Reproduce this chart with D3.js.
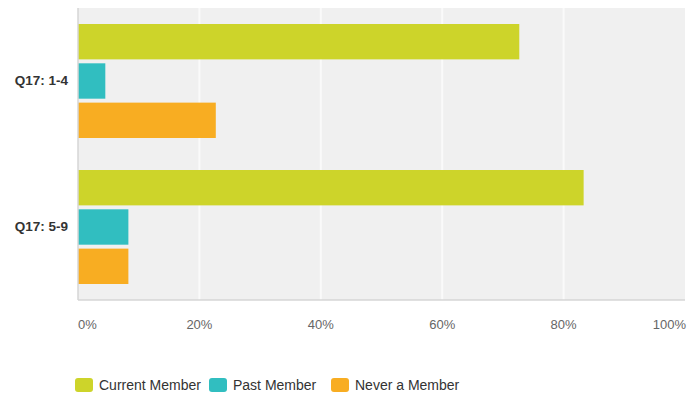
<!DOCTYPE html>
<html>
<head>
<script src="https://d3js.org/d3.v7.min.js"></script>
<style>
  body { margin: 0; background: #fff; }
  svg { display: block; font-family: "Liberation Sans", Arial, sans-serif; }
</style>
</head>
<body>
<div id="container"></div>
<script>
const categories = ['Q17: 1-4', 'Q17: 5-9'];
const series = ['Current Member', 'Past Member', 'Never a Member'];
const currentMember = [72.7, 83.3];
const pastMember = [4.5, 8.3];
const neverMember = [22.7, 8.3];
const tickValues = [0, 20, 40, 60, 80, 100];
const colors = ['#cdd42a', '#31bec0', '#f8ad22'];

const values = [currentMember, pastMember, neverMember];
const w = 688, h = 397;
const padL = 78, padR = 685, padT = 8, padB = 300;

const svg = d3.select('#container').append('svg')
  .attr('width', w).attr('height', h);

const x = d3.scaleLinear().domain([0, 100]).range([padL, padR]);
const y = d3.scaleBand().domain(categories).range([padT, padB]);
const inner = d3.scaleBand().domain(series)
  .range([16, y.bandwidth() - 16]).paddingInner(0.1);
const color = d3.scaleOrdinal().domain(series).range(colors);

// background
svg.append('rect')
  .attr('x', padL).attr('y', padT)
  .attr('width', padR - padL).attr('height', padB - padT)
  .attr('fill', '#f0f0f0');

// gridlines
svg.append('g').selectAll('line')
  .data(tickValues.slice(1, -1))
  .join('line')
  .attr('x1', d => x(d)).attr('x2', d => x(d))
  .attr('y1', padT).attr('y2', padB)
  .attr('stroke', '#fafafa').attr('stroke-width', 2);

// bars
const groups = svg.append('g').selectAll('g')
  .data(categories)
  .join('g')
  .attr('transform', d => 'translate(0,' + y(d) + ')');

groups.selectAll('rect')
  .data((c, i) => series.map((s, j) => ({ s: s, v: values[j][i] })))
  .join('rect')
  .attr('x', x(0))
  .attr('y', d => inner(d.s))
  .attr('width', d => x(d.v) - x(0))
  .attr('height', inner.bandwidth())
  .attr('fill', d => color(d.s));

// axis lines
svg.append('line')
  .attr('x1', padL).attr('x2', padL)
  .attr('y1', padT).attr('y2', padB)
  .attr('stroke', '#d6d6d6').attr('stroke-width', 1.5);
svg.append('line')
  .attr('x1', padL).attr('x2', padR)
  .attr('y1', padB).attr('y2', padB)
  .attr('stroke', '#d6d6d6').attr('stroke-width', 1.5);

// x tick labels
svg.append('g').selectAll('text')
  .data(tickValues)
  .join('text')
  .attr('x', d => d === 100 ? x(d) + 1 : x(d))
  .attr('y', 329)
  .attr('text-anchor', d => d === 0 ? 'start' : d === 100 ? 'end' : 'middle')
  .attr('font-size', 13)
  .attr('fill', '#666')
  .text(d => d + '%');

// category labels
svg.append('g').selectAll('text')
  .data(categories)
  .join('text')
  .attr('x', 68)
  .attr('y', d => y(d) + y.bandwidth() / 2 + 4)
  .attr('text-anchor', 'end')
  .attr('font-size', 13.5)
  .attr('font-weight', 'bold')
  .attr('fill', '#333')
  .text(d => d);

// legend
const legendX = [75, 209, 331];
const legend = svg.append('g').selectAll('g')
  .data(series)
  .join('g')
  .attr('transform', (d, i) => 'translate(' + legendX[i] + ',378)');
legend.append('rect')
  .attr('width', 18).attr('height', 14).attr('rx', 3)
  .attr('fill', d => color(d));
legend.append('text')
  .attr('x', 24).attr('y', 12)
  .attr('font-size', 14)
  .attr('fill', '#333')
  .text(d => d);
</script>
</body>
</html>
